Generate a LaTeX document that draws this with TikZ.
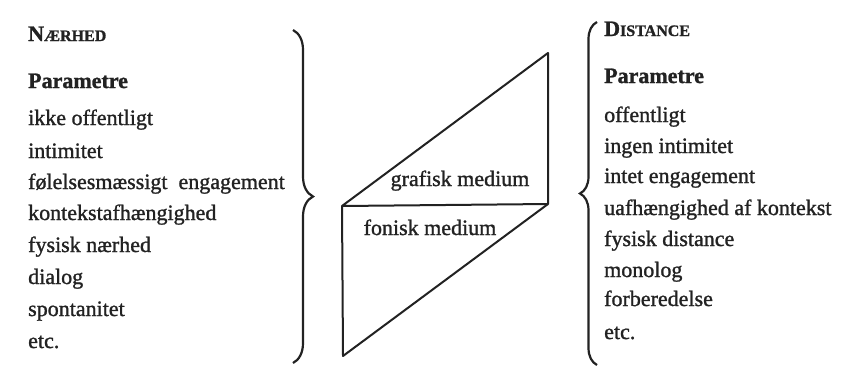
\documentclass[tikz,border=0pt]{standalone}
\usepackage{fontspec}
\setmainfont[FakeBold=1.2]{Liberation Serif}
\usetikzlibrary{decorations.pathreplacing}
\definecolor{ink}{HTML}{222222}
\tikzset{
  txt/.style={anchor=base west, inner sep=0pt, text=ink, font=\fontsize{22}{24}\selectfont},
  head/.style={txt, font=\fontsize{22}{24}\selectfont\bfseries},
  lbl/.style={anchor=base, inner sep=0pt, text=ink, font=\fontsize{22}{24}\selectfont},
  edge/.style={draw=ink, line width=2pt, line join=round},
  bracestyle/.style={draw=ink, line width=2.2pt, decorate, decoration={brace, amplitude=#1}}
}
\newcommand{\fakesc}[2]{{\fontsize{22}{24}\selectfont #1}{\fontsize{16}{18}\selectfont #2}}
\begin{document}
\begin{tikzpicture}[x=1pt, y=-1pt]
\useasboundingbox[fill=white] (0,0) rectangle (845,378);
% left column
\node[head] (nh) at (28,41) {\fakesc{N}{ÆRHED}};
\node[head] (lp) at (28,88) {Parametre};
\node[txt] (l1) at (28,125) {ikke offentligt};
\node[txt] (l2) at (28,158) {intimitet};
\node[txt] (l3) at (28,189) {følelsesmæssigt\ \ engagement};
\node[txt] (l4) at (28,220) {kontekstafhængighed};
\node[txt] (l5) at (28,252) {fysisk nærhed};
\node[txt] (l6) at (28,284) {dialog};
\node[txt] (l7) at (28,316) {spontanitet};
\node[txt] (l8) at (28,348) {etc.};
% right column
\node[head] (dh) at (604,36) {\fakesc{D}{ISTANCE}};
\node[head] (rp) at (604,83) {Parametre};
\node[txt] (r1) at (604,122) {offentligt};
\node[txt] (r2) at (604,153) {ingen intimitet};
\node[txt] (r3) at (604,183) {intet engagement};
\node[txt] (r4) at (604,215) {uafhængighed af kontekst};
\node[txt] (r5) at (604,246) {fysisk distance};
\node[txt] (r6) at (604,277) {monolog};
\node[txt] (r7) at (604,306) {forberedelse};
\node[txt] (r8) at (604,339) {etc.};
% braces
\coordinate (lbt) at (293,30);
\coordinate (lbb) at (293,363);
\coordinate (rbt) at (597,22);
\coordinate (rbb) at (597,365);
\draw[bracestyle=20pt] (lbt) -- (lbb);
\draw[bracestyle=17pt] (rbb) -- (rbt);
% shape
\coordinate (tr) at (548,53);
\coordinate (mr) at (548,204);
\coordinate (ml) at (342,206);
\coordinate (bl) at (343,356);
\draw[edge] (tr) -- (mr) -- (ml) -- cycle;
\draw[edge] (mr) -- (bl) -- (ml);
\node[lbl] (graf) at (460,186) {grafisk medium};
\node[lbl] (fon) at (430,235) {fonisk medium};
\end{tikzpicture}
\end{document}
